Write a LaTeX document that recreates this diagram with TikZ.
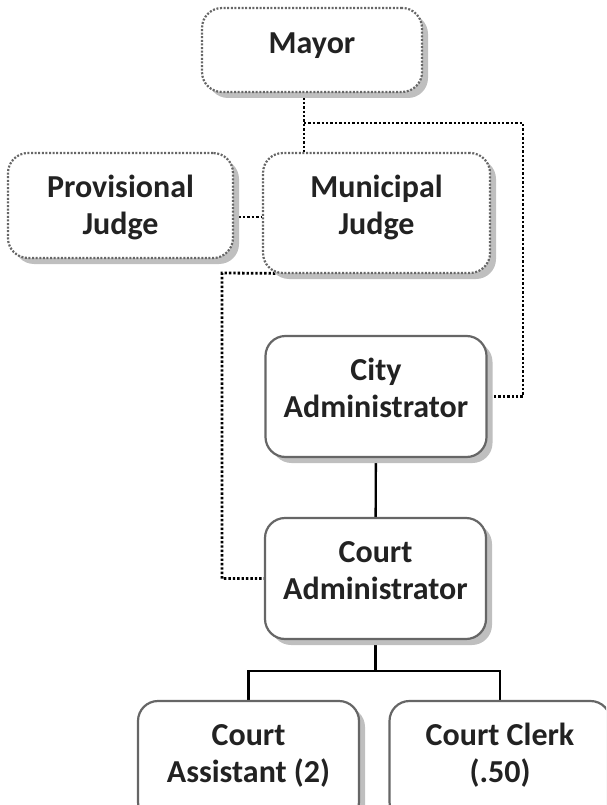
\documentclass[tikz,border=0pt]{standalone}
\usepackage{fontspec}
\setmainfont{Carlito}
\usetikzlibrary{shadows,backgrounds}

\definecolor{posttext}{HTML}{222222}
\definecolor{postline}{HTML}{666666}
\definecolor{postdots}{HTML}{666666}
\definecolor{postshadow}{HTML}{BFBFBF}

\newcommand{\postfont}{\bfseries\fontsize{32}{37.5}\selectfont}
\newcommand{\postlines}[1]{\begin{tabular}[t]{@{}c@{}}#1\end{tabular}}

\begin{document}
\begin{tikzpicture}[x=1pt,y=-1pt,
    post/.style={draw=postline,line width=2.2pt,rounded corners=20pt,fill=white,
      text=posttext,font=\postfont,inner sep=0pt,
      minimum width=221pt,minimum height=121pt,text height=44pt,text depth=77pt,
      drop shadow={shadow xshift=6pt,shadow yshift=-6pt,fill=postshadow,opacity=1}},
    dotpost/.style={post,draw=postdots,line width=2.2pt,dash pattern=on 2pt off 1.6pt},
    link/.style={draw=black,line width=2.4pt},
    dotlink/.style={draw=black,line width=2.8pt,dash pattern=on 2.4pt off 2pt}]

    \path[use as bounding box] (0,0) rectangle (606,805);
    \clip (0,0) rectangle (606,805);

    % dotted top row
    \node[dotpost,minimum width=220pt,minimum height=84pt,text height=46pt,text depth=38pt]
      (mayor) at (312,50) {Mayor};
    \node[dotpost,minimum width=225pt,minimum height=105pt,text depth=61pt]
      (provjudge) at (120.5,205.5) {\postlines{Provisional\\Judge}};
    \node[dotpost,minimum width=227pt,minimum height=120pt,text depth=76pt]
      (munjudge) at (376.5,213) {\postlines{Municipal\\Judge}};

    % staff
    \node[post] (cityadmin)  at (376,396.5)   {\postlines{City\\Administrator}};
    \node[post] (courtadmin) at (375.5,578.5) {\postlines{Court\\Administrator}};
    \node[post] (assistant)  at (248.5,761.5) {\postlines{Court\\Assistant (2)}};
    \node[post] (clerk)      at (500,761.5)   {\postlines{Court Clerk\\(.50)}};

    \begin{scope}[on background layer]
      \coordinate (mayortap)  at (304,123);
      \coordinate (cityrail)  at (523,123);
      \coordinate (courtrail) at (222,273);

      \draw[dotlink] (mayor.south -| mayortap) -- (munjudge.north -| mayortap);
      \draw[dotlink] (mayortap) -- (cityrail) |- (cityadmin.east);
      \draw[dotlink] (provjudge.east |- 0,217) -- (munjudge.west |- 0,217);
      \draw[dotlink] (munjudge.south) -- (courtrail) |- (courtadmin.west);

      \draw[link] (cityadmin) -- (courtadmin);
      \draw[link] (courtadmin.south) -- ++(0,31) coordinate (split) -| (assistant.north);
      \draw[link] (split) -| (clerk.north);
    \end{scope}
  \end{tikzpicture}
\end{document}
